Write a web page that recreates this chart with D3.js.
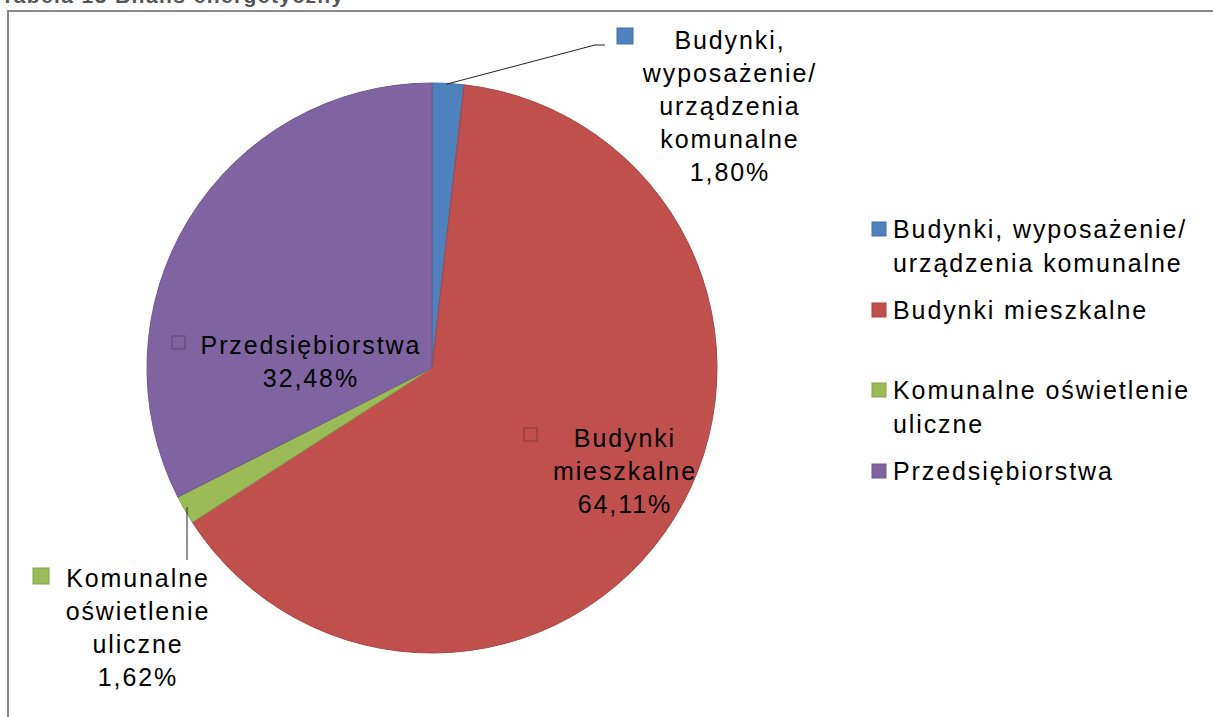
<!DOCTYPE html>
<meta charset="utf-8">
<title>Bilans energetyczny</title>
<style>
  body { margin: 0; background: #fff; }
  text { font-family: "Liberation Sans", Arial, sans-serif; }
</style>
<body>
<script src="https://d3js.org/d3.v7.min.js"></script>
<script>
// data
const categories = ["Budynki, wyposażenie/ urządzenia komunalne", "Budynki mieszkalne", "Komunalne oświetlenie uliczne", "Przedsiębiorstwa"];
const values = [1.80, 64.11, 1.62, 32.48];
const colors = ["#4F81BD", "#C0504D", "#9BBB59", "#8064A2"];
const labelLines = [
  ["Budynki,", "wyposażenie/", "urządzenia", "komunalne"],
  ["Budynki", "mieszkalne"],
  ["Komunalne", "oświetlenie", "uliczne"],
  ["Przedsiębiorstwa"]
];
const legendLines = [
  ["Budynki, wyposażenie/", "urządzenia komunalne"],
  ["Budynki mieszkalne"],
  ["Komunalne oświetlenie", "uliczne"],
  ["Przedsiębiorstwa"]
];

const W = 1213, H = 717;
const cx = 432, cy = 368, r = 285;

const svg = d3.select("body").append("svg").attr("width", W).attr("height", H);

svg.append("text").attr("x", 1).attr("y", 3)
  .attr("font-weight", "bold").attr("font-size", 21).attr("letter-spacing", 1.4).attr("fill", "#555")
  .text("Tabela 13 Bilans energetyczny");

svg.append("rect").attr("x", 8).attr("y", 11).attr("width", W).attr("height", H)
  .attr("fill", "none").attr("stroke", "#8a8a8a").attr("stroke-width", 2);

const data = categories.map((c, i) => ({ name: c, value: values[i], color: colors[i], lines: labelLines[i] }));
const pie = d3.pie().value(d => d.value).sort(null);
const arcs = pie(data);
const arc = d3.arc().innerRadius(0).outerRadius(r);

const g = svg.append("g").attr("transform", `translate(${cx},${cy})`);
g.selectAll("path").data(arcs).join("path")
  .attr("d", arc)
  .attr("fill", d => d.data.color)
  .attr("stroke", d => d3.color(d.data.color).darker(0.4))
  .attr("stroke-width", 1);

const fmt = v => v.toFixed(2).replace(".", ",") + "%";
const fs = 25, ls = 1.9, lh = 33;

// label placement (centre of first line, marker corner)
const labelPos = [
  { x: 729, y: 40, mx: 617, my: 28, filled: true },
  { x: 624, y: 438, mx: 524, my: 428, filled: false },
  { x: 137, y: 578, mx: 33, my: 568, filled: true },
  { x: 310, y: 345, mx: 172, my: 336, filled: false }
];

// leader lines
svg.append("polyline").attr("points", "447,84 595,45 605,45")
  .attr("fill", "none").attr("stroke", "#222").attr("stroke-width", 1);
svg.append("line").attr("x1", 187).attr("y1", 507).attr("x2", 187).attr("y2", 560)
  .attr("stroke", "#222").attr("stroke-width", 1);

arcs.forEach((a, i) => {
  const p = labelPos[i];
  const lines = a.data.lines.concat([fmt(a.data.value)]);
  const t = svg.append("text").attr("text-anchor", "middle").attr("font-size", fs)
    .attr("letter-spacing", ls).attr("fill", "#000");
  lines.forEach((l, k) => {
    t.append("tspan").attr("x", p.x + ls / 2).attr("y", p.y + k * lh).attr("dy", "0.35em").text(l);
  });
  svg.append("rect").attr("x", p.mx).attr("y", p.my)
    .attr("width", p.filled ? 16 : 13).attr("height", p.filled ? 16 : 13)
    .attr("fill", p.filled ? a.data.color : "none")
    .attr("stroke", p.filled ? d3.color(a.data.color).darker(0.4) : d3.color(a.data.color).darker(1))
    .attr("stroke-width", 1);
});

// legend
const legY = [229, 310, 390, 471];
const leg = svg.append("g");
data.forEach((d, i) => {
  leg.append("rect").attr("x", 872).attr("y", legY[i] - 7).attr("width", 14).attr("height", 14)
    .attr("fill", d.color).attr("stroke", d3.color(d.color).darker(0.4));
  const t = leg.append("text").attr("font-size", fs).attr("letter-spacing", ls).attr("fill", "#000");
  legendLines[i].forEach((l, k) => {
    t.append("tspan").attr("x", 893).attr("y", legY[i] + k * 34).attr("dy", "0.35em").text(l);
  });
});
</script>
</body>
